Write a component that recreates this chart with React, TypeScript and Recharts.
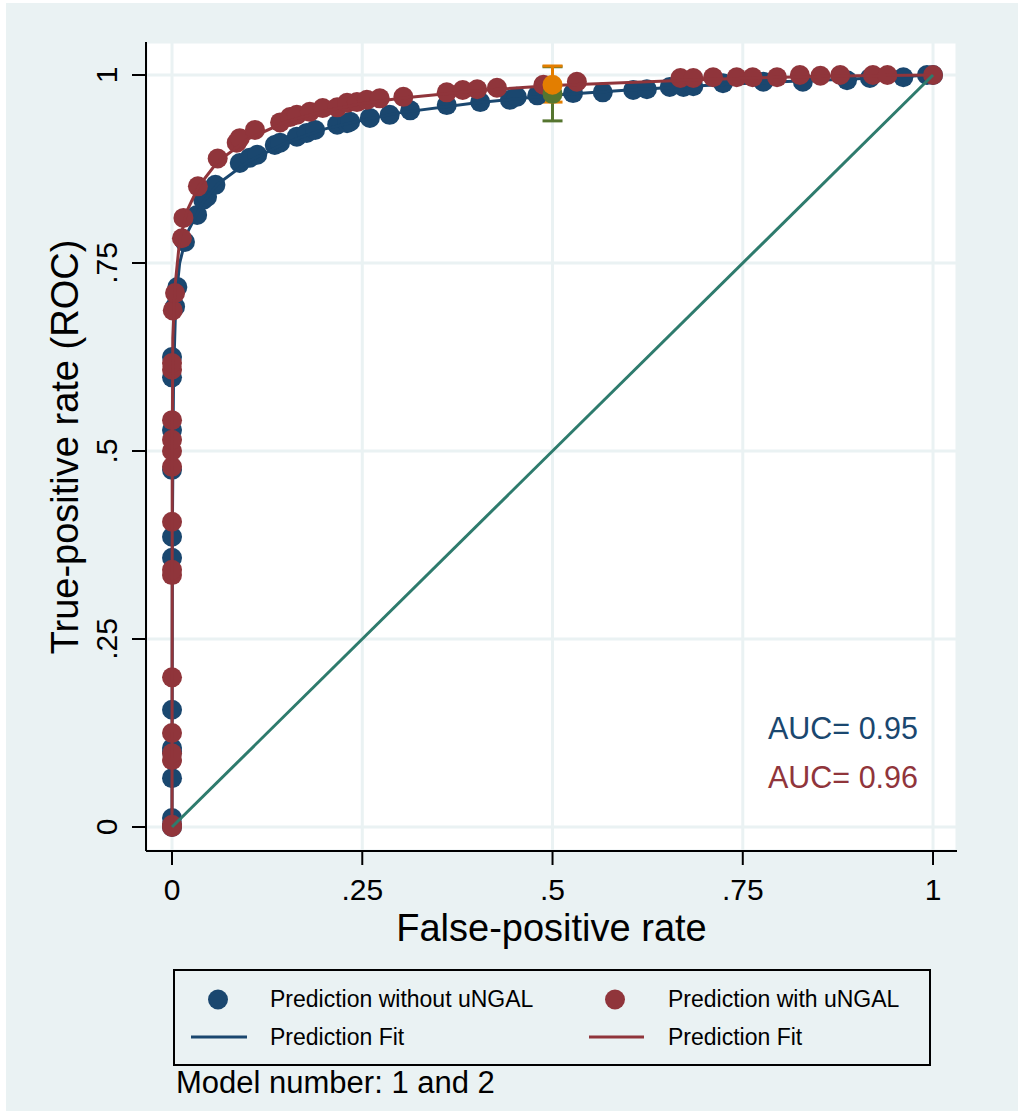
import React from "react";
import { ScatterChart, Scatter, XAxis, YAxis, CartesianGrid, ErrorBar } from "recharts";

const NAVY = "#1a476f";
const MAROON = "#90353b";
const GREEN = "#55752f";
const ORANGE = "#e37e00";
const TEAL = "#2e7b6d";
const BG = "#eaf2f3";
const FONT = '"Liberation Sans", Arial, Helvetica, sans-serif';

const axisTicks = [0, 0.25, 0.5, 0.75, 1];
const axisTickLabels = ["0", ".25", ".5", ".75", "1"];

// [false-positive rate, true-positive rate]
const withoutPoints: [number, number][] = [
  [0, 0], [0, 0.003], [0, 0.012], [0, 0.065], [0, 0.1], [0, 0.105], [0, 0.156],
  [0, 0.358], [0, 0.386], [0, 0.475], [0, 0.528], [0, 0.598], [0, 0.625],
  [0.004, 0.692], [0.007, 0.718], [0.017, 0.778], [0.033, 0.814], [0.041, 0.834],
  [0.046, 0.838], [0.057, 0.854], [0.089, 0.883], [0.102, 0.89], [0.112, 0.894],
  [0.135, 0.907], [0.142, 0.91], [0.164, 0.918], [0.177, 0.923], [0.188, 0.927],
  [0.217, 0.934], [0.23, 0.936], [0.234, 0.938], [0.26, 0.943], [0.286, 0.947],
  [0.313, 0.953], [0.361, 0.96], [0.405, 0.964], [0.444, 0.967], [0.453, 0.971],
  [0.48, 0.973], [0.527, 0.976], [0.566, 0.977], [0.606, 0.98], [0.624, 0.981],
  [0.654, 0.984], [0.672, 0.984], [0.685, 0.985], [0.724, 0.989], [0.777, 0.991],
  [0.829, 0.991], [0.887, 0.993], [0.917, 0.996], [0.961, 0.997], [0.992, 1], [1, 1],
];

const withPoints: [number, number][] = [
  [0, 0], [0, 0.003], [0, 0.089], [0, 0.098], [0, 0.125], [0, 0.199], [0, 0.335],
  [0, 0.342], [0, 0.406], [0, 0.479], [0, 0.5], [0, 0.515], [0, 0.541], [0, 0.608],
  [0, 0.617], [0.001, 0.687], [0.004, 0.71], [0.013, 0.783], [0.015, 0.81],
  [0.034, 0.852], [0.06, 0.889], [0.085, 0.91], [0.089, 0.916], [0.109, 0.927],
  [0.142, 0.937], [0.155, 0.944], [0.164, 0.947], [0.181, 0.951], [0.198, 0.956],
  [0.217, 0.957], [0.23, 0.963], [0.243, 0.964], [0.256, 0.967], [0.273, 0.969],
  [0.304, 0.971], [0.361, 0.977], [0.382, 0.98], [0.401, 0.981], [0.427, 0.983],
  [0.488, 0.987], [0.532, 0.991], [0.668, 0.996], [0.685, 0.996], [0.711, 0.997],
  [0.742, 0.997], [0.763, 0.997], [0.795, 0.997], [0.825, 1], [0.852, 0.999],
  [0.878, 1], [0.921, 1], [0.94, 1], [1, 1],
];

const withoutFit: [number, number][] = [
  [0, 0], [0.0005, 0.4], [0.002, 0.6], [0.005, 0.7], [0.01, 0.75], [0.02, 0.79],
  [0.04, 0.83], [0.06, 0.855], [0.1, 0.885], [0.15, 0.91], [0.2, 0.928], [0.25, 0.94],
  [0.3, 0.95], [0.4, 0.963], [0.5, 0.973], [0.6, 0.98], [0.7, 0.986], [0.8, 0.991],
  [0.9, 0.995], [1, 1],
];

const withFit: [number, number][] = [
  [0, 0], [0.0003, 0.5], [0.001, 0.65], [0.004, 0.72], [0.01, 0.78], [0.02, 0.82],
  [0.035, 0.852], [0.06, 0.885], [0.1, 0.915], [0.15, 0.938], [0.2, 0.952],
  [0.25, 0.962], [0.3, 0.969], [0.4, 0.979], [0.5, 0.986], [0.6, 0.99], [0.7, 0.994],
  [0.8, 0.997], [0.9, 0.999], [1, 1],
];

const chanceLine: [number, number][] = [[0, 0], [1, 1]];

// cut-off point: [fpr, tpr, lower error, upper error]
const withoutCutoff: [number, number, number, number][] = [[0.5, 0.975, 0.036, 0.036]];
const withCutoff: [number, number, number, number][] = [[0.5, 0.987, 0.023, 0.025]];

const aucLabels = ["AUC= 0.95", "AUC= 0.96"];
const legendLabels = ["Prediction without uNGAL", "Prediction with uNGAL", "Prediction Fit", "Prediction Fit"];

const toXY = (arr: [number, number][]) => arr.map(([x, y]) => ({ x, y }));
const toErr = (arr: [number, number, number, number][]) =>
  arr.map(([x, y, lo, hi]) => ({ x, y, err: [lo, hi] }));

function XTick(props: any) {
  const { x, y, payload } = props;
  const i = axisTicks.indexOf(payload.value);
  return (
    <text x={x} y={y + 35} textAnchor="middle" fontSize={30} fontFamily={FONT} fill="#000">
      {axisTickLabels[i]}
    </text>
  );
}

function YTick(props: any) {
  const { x, y, payload } = props;
  const i = axisTicks.indexOf(payload.value);
  return (
    <text
      transform={`translate(${x - 15}, ${y}) rotate(-90)`}
      textAnchor="middle"
      fontSize={30}
      fontFamily={FONT}
      fill="#000"
    >
      {axisTickLabels[i]}
    </text>
  );
}

const dot = (color: string) => (p: any) => <circle cx={p.cx} cy={p.cy} r={10} fill={color} />;
const noDot = () => <g />;

export default function App() {
  return (
    <div style={{ position: "absolute", left: 0, top: 0, width: 1024, height: 1114, background: "#fff" }}>
      <div style={{ position: "absolute", left: 6, top: 3, width: 1012, height: 1108, background: BG }} />
      <div style={{ position: "absolute", left: 0, top: 0 }}>
        <ScatterChart width={1024} height={1114} margin={{ top: 42, right: 67, bottom: 203, left: 86 }}>
          <CartesianGrid fill="#fff" stroke={BG} strokeWidth={3} />
          <XAxis
            type="number"
            dataKey="x"
            domain={[-0.0342, 1.0315]}
            ticks={axisTicks}
            interval={0}
            allowDataOverflow
            height={60}
            tickSize={14}
            tickMargin={0}
            tick={<XTick />}
            axisLine={{ stroke: "#000", strokeWidth: 2 }}
            tickLine={{ stroke: "#000", strokeWidth: 2 }}
          />
          <YAxis
            type="number"
            dataKey="y"
            domain={[-0.0319, 1.0439]}
            ticks={axisTicks}
            interval={0}
            allowDataOverflow
            width={60}
            tickSize={14}
            tickMargin={0}
            tick={<YTick />}
            axisLine={{ stroke: "#000", strokeWidth: 2 }}
            tickLine={{ stroke: "#000", strokeWidth: 2 }}
          />
          <Scatter data={toXY(withoutPoints)} shape={dot(NAVY)} isAnimationActive={false} />
          <Scatter
            data={toXY(withoutFit)}
            shape={noDot}
            line={{ stroke: NAVY, strokeWidth: 3 }}
            lineType="joint"
            isAnimationActive={false}
          />
          <Scatter data={toXY(withPoints)} shape={dot(MAROON)} isAnimationActive={false} />
          <Scatter
            data={toXY(withFit)}
            shape={noDot}
            line={{ stroke: MAROON, strokeWidth: 3 }}
            lineType="joint"
            isAnimationActive={false}
          />
          <Scatter
            data={toXY(chanceLine)}
            shape={noDot}
            line={{ stroke: TEAL, strokeWidth: 3 }}
            lineType="joint"
            isAnimationActive={false}
          />
          <Scatter data={toErr(withoutCutoff)} shape={noDot} isAnimationActive={false}>
            <ErrorBar dataKey="err" direction="y" width={10} stroke={GREEN} strokeWidth={3} />
          </Scatter>
          <Scatter data={toErr(withCutoff)} shape={noDot} isAnimationActive={false}>
            <ErrorBar dataKey="err" direction="y" width={10} stroke={ORANGE} strokeWidth={3} />
          </Scatter>
          <Scatter data={toErr(withoutCutoff)} shape={dot(GREEN)} isAnimationActive={false} />
          <Scatter data={toErr(withCutoff)} shape={dot(ORANGE)} isAnimationActive={false} />
        </ScatterChart>
      </div>
      <svg
        width={1024}
        height={1114}
        style={{ position: "absolute", left: 0, top: 0, pointerEvents: "none" }}
        fontFamily={FONT}
      >
        <text transform="translate(78, 447) rotate(-90)" textAnchor="middle" fontSize={38} fill="#000">
          True-positive rate (ROC)
        </text>
        <text x={551.5} y={941} textAnchor="middle" fontSize={38} fill="#000">
          False-positive rate
        </text>
        <text x={918} y={739} textAnchor="end" fontSize={30.5} fill={NAVY}>
          {aucLabels[0]}
        </text>
        <text x={918} y={788} textAnchor="end" fontSize={30.5} fill={MAROON}>
          {aucLabels[1]}
        </text>

        <rect x={174} y={970} width={756} height={95} fill="none" stroke="#000" strokeWidth={2} />
        <circle cx={218} cy={999.5} r={10} fill={NAVY} />
        <text x={270} y={1007} fontSize={23} fill="#000">{legendLabels[0]}</text>
        <circle cx={615} cy={999.5} r={10} fill={MAROON} />
        <text x={668} y={1007} fontSize={23} fill="#000">{legendLabels[1]}</text>
        <line x1={191} x2={247} y1={1037} y2={1037} stroke={NAVY} strokeWidth={3} />
        <text x={270} y={1045} fontSize={23} fill="#000">{legendLabels[2]}</text>
        <line x1={589} x2={644} y1={1037} y2={1037} stroke={MAROON} strokeWidth={3} />
        <text x={668} y={1045} fontSize={23} fill="#000">{legendLabels[3]}</text>

        <text x={176} y={1093} fontSize={31} fill="#000">
          Model number: 1 and 2
        </text>
      </svg>
    </div>
  );
}
